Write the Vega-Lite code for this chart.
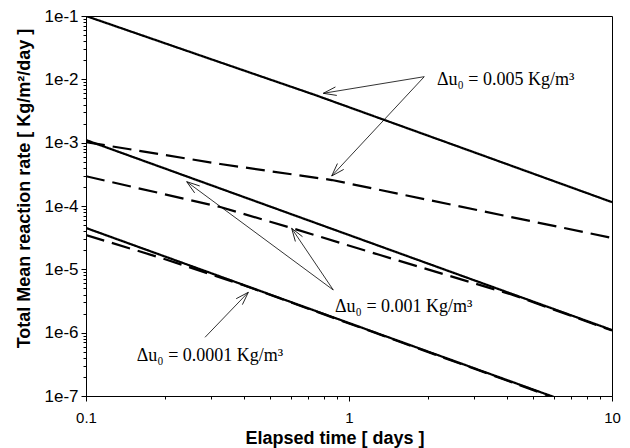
{
  "$schema": "https://vega.github.io/schema/vega-lite/v6.json",
  "width": 526,
  "height": 380,
  "autosize": "none",
  "padding": {"left": 86, "top": 16, "right": 18, "bottom": 52},
  "background": "white",
  "config": {
    "view": {"stroke": "black", "strokeWidth": 1},
    "axis": {
      "grid": false,
      "domainColor": "black",
      "tickColor": "black",
      "labelColor": "black",
      "titleColor": "black",
      "labelFont": "Liberation Sans",
      "titleFont": "Liberation Sans",
      "labelFontSize": 15,
      "titleFontSize": 18,
      "titleFontWeight": "bold"
    }
  },
  "datasets": {
    "curves": [
      {"du": "0.005", "model": "solid", "t": 0.1, "rate": 0.1},
      {"du": "0.005", "model": "solid", "t": 0.316, "rate": 0.0192},
      {"du": "0.005", "model": "solid", "t": 0.743, "rate": 0.00566},
      {"du": "0.005", "model": "solid", "t": 3.16, "rate": 0.000649},
      {"du": "0.005", "model": "solid", "t": 10, "rate": 0.000115},
      {"du": "0.005", "model": "dashed", "t": 0.1, "rate": 0.00102},
      {"du": "0.005", "model": "dashed", "t": 0.324, "rate": 0.00046},
      {"du": "0.005", "model": "dashed", "t": 0.861, "rate": 0.000257},
      {"du": "0.005", "model": "dashed", "t": 3.16, "rate": 0.0000843},
      {"du": "0.005", "model": "dashed", "t": 10, "rate": 0.0000313},
      {"du": "0.001", "model": "solid", "t": 0.1, "rate": 0.0011},
      {"du": "0.001", "model": "solid", "t": 0.316, "rate": 0.000196},
      {"du": "0.001", "model": "solid", "t": 1, "rate": 0.0000348},
      {"du": "0.001", "model": "solid", "t": 3.16, "rate": 0.00000619},
      {"du": "0.001", "model": "solid", "t": 10, "rate": 0.0000011},
      {"du": "0.001", "model": "dashed", "t": 0.1, "rate": 0.000295},
      {"du": "0.001", "model": "dashed", "t": 0.324, "rate": 0.0000964},
      {"du": "0.001", "model": "dashed", "t": 0.607, "rate": 0.0000447},
      {"du": "0.001", "model": "dashed", "t": 1.312, "rate": 0.0000168},
      {"du": "0.001", "model": "dashed", "t": 4.17, "rate": 0.00000398},
      {"du": "0.001", "model": "dashed", "t": 10, "rate": 0.00000108},
      {"du": "0.0001", "model": "solid", "t": 0.1, "rate": 0.000045},
      {"du": "0.0001", "model": "solid", "t": 0.316, "rate": 0.000008},
      {"du": "0.0001", "model": "solid", "t": 1, "rate": 0.00000142},
      {"du": "0.0001", "model": "solid", "t": 3.16, "rate": 0.000000253},
      {"du": "0.0001", "model": "solid", "t": 10, "rate": 0.000000045},
      {"du": "0.0001", "model": "dashed", "t": 0.1, "rate": 0.0000348},
      {"du": "0.0001", "model": "dashed", "t": 0.2, "rate": 0.00001445},
      {"du": "0.0001", "model": "dashed", "t": 0.4, "rate": 0.00000556},
      {"du": "0.0001", "model": "dashed", "t": 1, "rate": 0.0000014},
      {"du": "0.0001", "model": "dashed", "t": 10, "rate": 0.000000044}
    ],
    "arrows": [
      {"t": 0.7985, "rate": 0.006018, "t2": 1.933, "rate2": 0.01101, "angle": 260.7},
      {"t": 0.8595, "rate": 0.0002977, "t2": 1.933, "rate2": 0.01101, "angle": 223},
      {"t": 0.2415, "rate": 0.0002419, "t2": 0.8716, "rate2": 0.000004716, "angle": 306.4},
      {"t": 0.6053, "rate": 0.00004444, "t2": 0.8716, "rate2": 0.000004716, "angle": 326},
      {"t": 0.4141, "rate": 0.000004339, "t2": 0.2835, "rate2": 0.0000008446, "angle": 43.9}
    ],
    "labels": [
      {"t": 2.161, "rate": 0.00814, "label": "Δu₀ = 0.005 Kg/m³"},
      {"t": 0.885, "rate": 0.00000212, "label": "Δu₀ = 0.001 Kg/m³"},
      {"t": 0.156, "rate": 0.000000356, "label": "Δu₀ = 0.0001 Kg/m³"}
    ]
  },
  "encoding": {
    "x": {
      "field": "t",
      "type": "quantitative",
      "scale": {"type": "log", "domain": [0.1, 10], "nice": false},
      "axis": {
        "title": "Elapsed time [ days ]",
        "values": [0.1, 0.2, 0.3, 0.4, 0.5, 0.6, 0.7, 0.8, 0.9, 1, 2, 3, 4, 5, 6, 7, 8, 9, 10],
        "labelExpr": "datum.value == 0.1 ? '0.1' : datum.value == 1 ? '1' : datum.value == 10 ? '10' : ''",
        "tickSize": {"condition": {"test": "datum.value == 0.1 || datum.value == 1 || datum.value == 10", "value": 5}, "value": 3},
        "labelPadding": 9,
        "labelOverlap": false,
        "labelFlush": false,
        "titleX": 248.5,
        "titleY": 47,
        "titleAlign": "center",
        "titleBaseline": "alphabetic",
        "titleAnchor": null
      }
    },
    "y": {
      "field": "rate",
      "type": "quantitative",
      "scale": {"type": "log", "domain": [0.0000001, 0.1], "nice": false},
      "axis": {
        "title": "Total Mean reaction rate [ Kg/m²/day ]",
        "values": [1e-7, 2e-7, 3e-7, 4e-7, 5e-7, 6e-7, 7e-7, 8e-7, 9e-7, 1e-6, 2e-6, 3e-6, 4e-6, 5e-6, 6e-6, 7e-6, 8e-6, 9e-6, 1e-5, 2e-5, 3e-5, 4e-5, 5e-5, 6e-5, 7e-5, 8e-5, 9e-5, 1e-4, 2e-4, 3e-4, 4e-4, 5e-4, 6e-4, 7e-4, 8e-4, 9e-4, 1e-3, 2e-3, 3e-3, 4e-3, 5e-3, 6e-3, 7e-3, 8e-3, 9e-3, 1e-2, 2e-2, 3e-2, 4e-2, 5e-2, 6e-2, 7e-2, 8e-2, 9e-2, 1e-1],
        "labelExpr": "indexof([1e-7, 1e-6, 1e-5, 1e-4, 1e-3, 1e-2, 1e-1], datum.value) >= 0 ? '1e' + round(log(datum.value) / LN10) : ''",
        "tickSize": {"condition": {"test": "indexof([1e-7, 1e-6, 1e-5, 1e-4, 1e-3, 1e-2, 1e-1], datum.value) >= 0", "value": 5}, "value": 3},
        "labelFontSize": 17,
        "labelPadding": 3,
        "labelOverlap": false,
        "labelFlush": false,
        "titleX": -57,
        "titleY": 172,
        "titleAlign": "center",
        "titleBaseline": "alphabetic",
        "titleAnchor": null
      }
    }
  },
  "layer": [
    {
      "data": {"name": "curves"},
      "mark": {"type": "line", "color": "black", "strokeWidth": 2.2, "clip": true},
      "encoding": {
        "detail": [{"field": "du"}, {"field": "model"}],
        "strokeDash": {
          "field": "model",
          "type": "nominal",
          "scale": {"domain": ["solid", "dashed"], "range": [[1, 0], [19, 8]]},
          "legend": null
        }
      }
    },
    {
      "data": {"name": "arrows"},
      "mark": {"type": "rule", "color": "black", "strokeWidth": 0.8},
      "encoding": {
        "x2": {"field": "t2"},
        "y2": {"field": "rate2"}
      }
    },
    {
      "data": {"name": "arrows"},
      "mark": {"type": "point", "shape": "M -0.33 1 L 0 0 L 0.33 1", "filled": false, "color": "black", "strokeWidth": 0.8, "size": 676, "opacity": 1},
      "encoding": {
        "angle": {"field": "angle", "type": "quantitative", "scale": null}
      }
    },
    {
      "data": {"name": "labels"},
      "mark": {"type": "text", "align": "left", "baseline": "alphabetic", "font": "Liberation Serif", "fontSize": 18, "color": "black"},
      "encoding": {
        "text": {"field": "label"}
      }
    }
  ]
}
